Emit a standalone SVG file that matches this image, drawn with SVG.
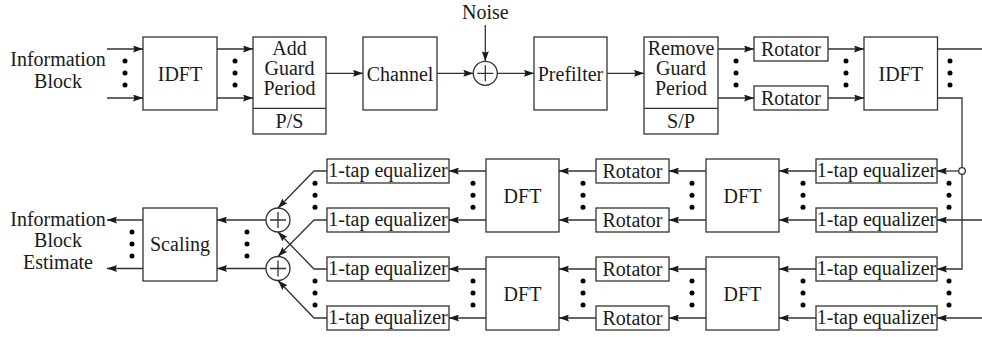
<svg xmlns="http://www.w3.org/2000/svg" width="982" height="337" viewBox="0 0 982 337">
  <style>
    .box { fill: #fff; stroke: #333; stroke-width: 1.3; }
    .wire { fill: none; stroke: #333; stroke-width: 1.3; }
    .arr { marker-end: url(#ah); }
    .lbl { font-family: "Liberation Serif", "Times New Roman", serif; font-size: 20px; fill: #1a1a1a; text-anchor: middle; }
    .dot { fill: #000; }
    .sum { fill: #fff; stroke: #333; stroke-width: 1.3; }
  </style>
  <defs>
    <marker id="ah" viewBox="0 0 10 7" refX="10" refY="3.5" markerWidth="10" markerHeight="7" markerUnits="userSpaceOnUse" orient="auto">
      <path d="M0,0 L10,3.5 L0,7 L1.5,3.5 z" fill="#1a1a1a"/>
    </marker>
    <!-- vertical ellipsis of three dots, centred on the origin -->
    <g id="vdots">
      <circle class="dot" cx="0" cy="-12" r="2.5"/>
      <circle class="dot" cx="0" cy="0" r="2.5"/>
      <circle class="dot" cx="0" cy="12" r="2.5"/>
    </g>
    <!-- summing junction: circle with a plus -->
    <g id="adder">
      <circle class="sum" cx="0" cy="0" r="12"/>
      <path class="wire" d="M-8,0 H8 M0,-8 V8"/>
    </g>
  </defs>

  <!-- ===== transmitter / receiver front end (top row) ===== -->
  <g id="in-label">
    <text class="lbl" x="58" y="66">Information</text>
    <text class="lbl" x="58" y="87.5">Block</text>
  </g>
  <g id="idft-tx">
    <rect class="box" x="143" y="37" width="74" height="73"/>
    <text class="lbl" x="180" y="80.5">IDFT</text>
  </g>
  <g id="add-guard">
    <rect class="box" x="253" y="37" width="73" height="97"/>
    <line class="wire" x1="253" y1="108.3" x2="326" y2="108.3"/>
    <text class="lbl" x="289.5" y="55">Add</text>
    <text class="lbl" x="289.5" y="75">Guard</text>
    <text class="lbl" x="289.5" y="95">Period</text>
    <text class="lbl" x="289.5" y="128">P/S</text>
  </g>
  <g id="channel">
    <rect class="box" x="363" y="37" width="74" height="73"/>
    <text class="lbl" x="400" y="80.5">Channel</text>
  </g>
  <g id="noise-sum">
    <text class="lbl" x="485.3" y="18.5">Noise</text>
    <use href="#adder" x="485.3" y="73.3"/>
  </g>
  <g id="prefilter">
    <rect class="box" x="534" y="37" width="73" height="73"/>
    <text class="lbl" x="570.5" y="80.5">Prefilter</text>
  </g>
  <g id="remove-guard">
    <rect class="box" x="644" y="37" width="74" height="97"/>
    <line class="wire" x1="644" y1="108.3" x2="718" y2="108.3"/>
    <text class="lbl" x="681" y="55">Remove</text>
    <text class="lbl" x="681" y="75">Guard</text>
    <text class="lbl" x="681" y="95">Period</text>
    <text class="lbl" x="681" y="128">S/P</text>
  </g>
  <g id="rot-top-1">
    <rect class="box" x="754" y="37" width="74" height="24"/>
    <text class="lbl" x="791" y="55.5">Rotator</text>
  </g>
  <g id="rot-top-2">
    <rect class="box" x="754" y="86" width="74" height="24"/>
    <text class="lbl" x="791" y="104.5">Rotator</text>
  </g>
  <g id="idft-rx">
    <rect class="box" x="864" y="37" width="73.5" height="73"/>
    <text class="lbl" x="900.7" y="80.5">IDFT</text>
  </g>

  <!-- ===== equalizer branches (bottom rows) ===== -->
  <g id="eq-r1"><rect class="box" x="816" y="159" width="121" height="24"/><text class="lbl" x="876.5" y="177">1-tap equalizer</text></g>
  <g id="eq-r2"><rect class="box" x="816" y="208" width="121" height="24"/><text class="lbl" x="876.5" y="226">1-tap equalizer</text></g>
  <g id="eq-r3"><rect class="box" x="816" y="257" width="121" height="24"/><text class="lbl" x="876.5" y="275">1-tap equalizer</text></g>
  <g id="eq-r4"><rect class="box" x="816" y="306" width="121" height="24"/><text class="lbl" x="876.5" y="324">1-tap equalizer</text></g>

  <g id="dft-r-upper"><rect class="box" x="706" y="159" width="73" height="73"/><text class="lbl" x="742.5" y="202.5">DFT</text></g>
  <g id="dft-r-lower"><rect class="box" x="706" y="257" width="73" height="73"/><text class="lbl" x="742.5" y="300.5">DFT</text></g>

  <g id="rot-r1"><rect class="box" x="596" y="159" width="73" height="24"/><text class="lbl" x="632.5" y="177.5">Rotator</text></g>
  <g id="rot-r2"><rect class="box" x="596" y="208" width="73" height="24"/><text class="lbl" x="632.5" y="226.5">Rotator</text></g>
  <g id="rot-r3"><rect class="box" x="596" y="257" width="73" height="24"/><text class="lbl" x="632.5" y="275.5">Rotator</text></g>
  <g id="rot-r4"><rect class="box" x="596" y="306" width="73" height="24"/><text class="lbl" x="632.5" y="324.5">Rotator</text></g>

  <g id="dft-l-upper"><rect class="box" x="486" y="159" width="73" height="73"/><text class="lbl" x="522.5" y="202.5">DFT</text></g>
  <g id="dft-l-lower"><rect class="box" x="486" y="257" width="73" height="73"/><text class="lbl" x="522.5" y="300.5">DFT</text></g>

  <g id="eq-l1"><rect class="box" x="327" y="159" width="122" height="24"/><text class="lbl" x="388" y="177">1-tap equalizer</text></g>
  <g id="eq-l2"><rect class="box" x="327" y="208" width="122" height="24"/><text class="lbl" x="388" y="226">1-tap equalizer</text></g>
  <g id="eq-l3"><rect class="box" x="327" y="257" width="122" height="24"/><text class="lbl" x="388" y="275">1-tap equalizer</text></g>
  <g id="eq-l4"><rect class="box" x="327" y="306" width="122" height="24"/><text class="lbl" x="388" y="324">1-tap equalizer</text></g>

  <g id="sum-1"><use href="#adder" x="278" y="220"/></g>
  <g id="sum-2"><use href="#adder" x="278" y="268.5"/></g>

  <g id="scaling">
    <rect class="box" x="143" y="208" width="74" height="73"/>
    <text class="lbl" x="180" y="250.5">Scaling</text>
  </g>
  <g id="out-label">
    <text class="lbl" x="58" y="225.5">Information</text>
    <text class="lbl" x="58" y="247">Block</text>
    <text class="lbl" x="58" y="268.5">Estimate</text>
  </g>

  <!-- ===== connectors ===== -->
  <g id="connectors">
    <!-- top row -->
    <line class="wire arr" x1="107" y1="49" x2="143" y2="49"/>
    <line class="wire arr" x1="107" y1="98" x2="143" y2="98"/>
    <line class="wire arr" x1="217" y1="49" x2="253" y2="49"/>
    <line class="wire arr" x1="217" y1="98" x2="253" y2="98"/>
    <line class="wire arr" x1="326" y1="73.3" x2="363" y2="73.3"/>
    <line class="wire arr" x1="437" y1="73.3" x2="473.3" y2="73.3"/>
    <line class="wire arr" x1="485.3" y1="25" x2="485.3" y2="61.3"/>
    <line class="wire arr" x1="497.3" y1="73.3" x2="534" y2="73.3"/>
    <line class="wire arr" x1="607" y1="73.3" x2="644" y2="73.3"/>
    <line class="wire arr" x1="718" y1="49" x2="754" y2="49"/>
    <line class="wire arr" x1="718" y1="98" x2="754" y2="98"/>
    <line class="wire arr" x1="828" y1="49" x2="864" y2="49"/>
    <line class="wire arr" x1="828" y1="98" x2="864" y2="98"/>
    <line class="wire" x1="937.5" y1="49" x2="982" y2="49"/>
    <path class="wire arr" d="M937.5,98 H962 V269 H937"/>

    <!-- right-hand inputs of the equalizer rows -->
    <line class="wire arr" x1="958.7" y1="171" x2="937" y2="171"/>
    <circle cx="962" cy="171" r="3.3" fill="#fff" stroke="#333" stroke-width="1.3"/>
    <line class="wire arr" x1="982" y1="220" x2="937" y2="220"/>
    <line class="wire arr" x1="982" y1="318" x2="937" y2="318"/>

    <!-- equalizer -> DFT -> rotator -> DFT -> equalizer -->
    <line class="wire arr" x1="816" y1="171" x2="779" y2="171"/>
    <line class="wire arr" x1="816" y1="220" x2="779" y2="220"/>
    <line class="wire arr" x1="816" y1="269" x2="779" y2="269"/>
    <line class="wire arr" x1="816" y1="318" x2="779" y2="318"/>
    <line class="wire arr" x1="706" y1="171" x2="669" y2="171"/>
    <line class="wire arr" x1="706" y1="220" x2="669" y2="220"/>
    <line class="wire arr" x1="706" y1="269" x2="669" y2="269"/>
    <line class="wire arr" x1="706" y1="318" x2="669" y2="318"/>
    <line class="wire arr" x1="596" y1="171" x2="559" y2="171"/>
    <line class="wire arr" x1="596" y1="220" x2="559" y2="220"/>
    <line class="wire arr" x1="596" y1="269" x2="559" y2="269"/>
    <line class="wire arr" x1="596" y1="318" x2="559" y2="318"/>
    <line class="wire arr" x1="486" y1="171" x2="449" y2="171"/>
    <line class="wire arr" x1="486" y1="220" x2="449" y2="220"/>
    <line class="wire arr" x1="486" y1="269" x2="449" y2="269"/>
    <line class="wire arr" x1="486" y1="318" x2="449" y2="318"/>

    <!-- equalizer outputs into the adders -->
    <path class="wire arr" d="M327,171 H314 L278,208"/>
    <path class="wire arr" d="M327,220 H314 L278,256.5"/>
    <path class="wire arr" d="M327,269 H314 L278,232"/>
    <path class="wire arr" d="M327,318 H314 L278,280.5"/>

    <!-- adders -> scaling -> output -->
    <line class="wire arr" x1="266" y1="220" x2="217" y2="220"/>
    <line class="wire arr" x1="266" y1="268.5" x2="217" y2="268.5"/>
    <line class="wire arr" x1="143" y1="220" x2="107" y2="220"/>
    <line class="wire arr" x1="143" y1="268.5" x2="107" y2="268.5"/>
  </g>

  <!-- ellipsis dots between parallel lines -->
  <g id="ellipses">
    <use href="#vdots" x="125" y="73"/>
    <use href="#vdots" x="235" y="73"/>
    <use href="#vdots" x="736" y="73"/>
    <use href="#vdots" x="846" y="73"/>
    <use href="#vdots" x="950" y="73"/>

    <use href="#vdots" x="949" y="195.3"/>
    <use href="#vdots" x="803" y="195.3"/>
    <use href="#vdots" x="692" y="195.3"/>
    <use href="#vdots" x="583" y="195.3"/>
    <use href="#vdots" x="473" y="195.3"/>
    <use href="#vdots" x="315" y="195.3"/>

    <use href="#vdots" x="949" y="293"/>
    <use href="#vdots" x="803" y="293"/>
    <use href="#vdots" x="692" y="293"/>
    <use href="#vdots" x="583" y="293"/>
    <use href="#vdots" x="473" y="293"/>
    <use href="#vdots" x="315" y="293"/>

    <use href="#vdots" x="247" y="244"/>
    <use href="#vdots" x="132" y="244"/>
  </g>
</svg>
